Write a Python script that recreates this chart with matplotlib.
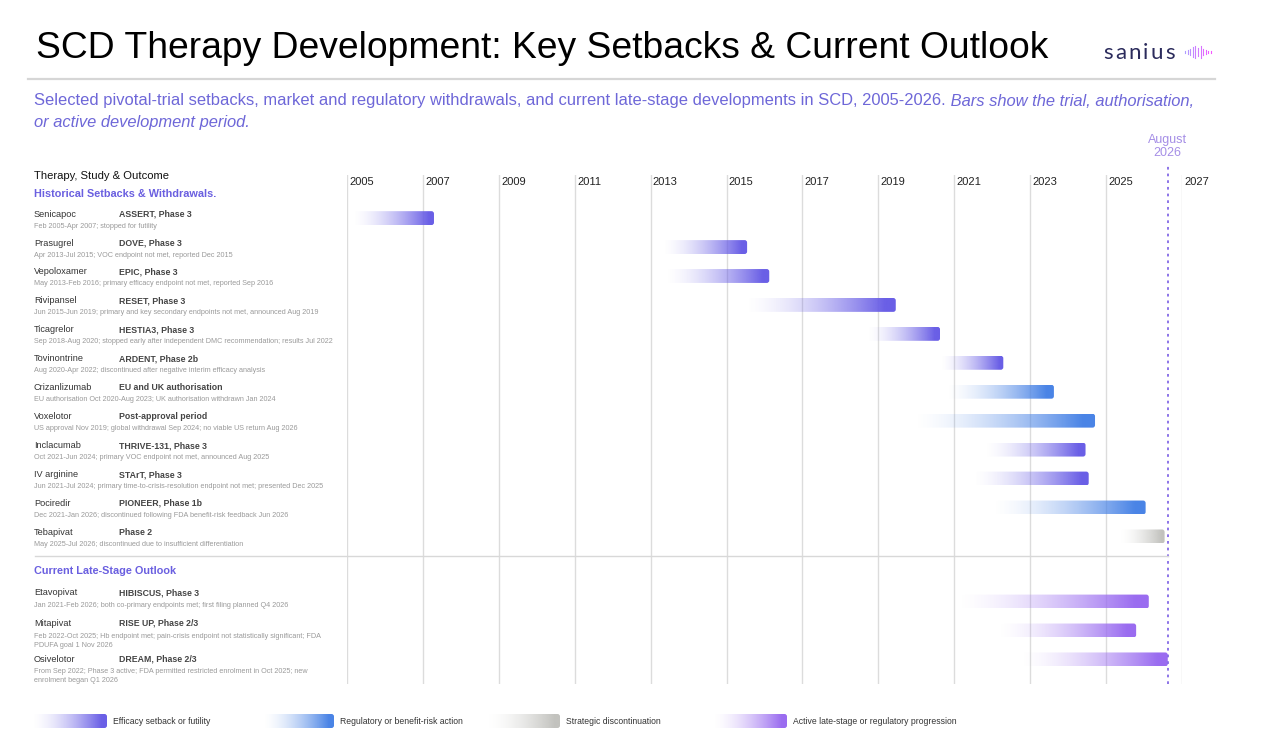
import numpy as np
import matplotlib
matplotlib.use('Agg')
import matplotlib.pyplot as plt
from matplotlib.patches import FancyBboxPatch
from matplotlib.lines import Line2D
from matplotlib.colors import to_rgb
from matplotlib.transforms import blended_transform_factory

plt.rcParams['font.family'] = ['Liberation Sans', 'DejaVu Sans']

W, H = 1280, 756

# --- data ---
hist_names = ['Senicapoc', 'Prasugrel', 'Vepoloxamer', 'Rivipansel', 'Ticagrelor', 'Tovinontrine',
              'Crizanlizumab', 'Voxelotor', 'Inclacumab', 'IV arginine', 'Pociredir', 'Tebapivat']
hist_studies = ['ASSERT, Phase 3', 'DOVE, Phase 3', 'EPIC, Phase 3', 'RESET, Phase 3', 'HESTIA3, Phase 3',
                'ARDENT, Phase 2b', 'EU and UK authorisation', 'Post-approval period', 'THRIVE-131, Phase 3',
                'STArT, Phase 3', 'PIONEER, Phase 1b', 'Phase 2']
hist_notes = [
    'Feb 2005-Apr 2007; stopped for futility',
    'Apr 2013-Jul 2015; VOC endpoint not met, reported Dec 2015',
    'May 2013-Feb 2016; primary efficacy endpoint not met, reported Sep 2016',
    'Jun 2015-Jun 2019; primary and key secondary endpoints not met, announced Aug 2019',
    'Sep 2018-Aug 2020; stopped early after independent DMC recommendation; results Jul 2022',
    'Aug 2020-Apr 2022; discontinued after negative interim efficacy analysis',
    'EU authorisation Oct 2020-Aug 2023; UK authorisation withdrawn Jan 2024',
    'US approval Nov 2019; global withdrawal Sep 2024; no viable US return Aug 2026',
    'Oct 2021-Jun 2024; primary VOC endpoint not met, announced Aug 2025',
    'Jun 2021-Jul 2024; primary time-to-crisis-resolution endpoint not met; presented Dec 2025',
    'Dec 2021-Jan 2026; discontinued following FDA benefit-risk feedback Jun 2026',
    'May 2025-Jul 2026; discontinued due to insufficient differentiation',
]
hist_start = ['2005-02', '2013-04', '2013-05', '2015-06', '2018-09', '2020-08',
              '2020-10', '2019-11', '2021-10', '2021-06', '2021-12', '2025-05']
hist_end = ['2007-04', '2015-07', '2016-02', '2019-06', '2020-08', '2022-04',
            '2023-08', '2024-09', '2024-06', '2024-07', '2026-01', '2026-07']
hist_kind = ['efficacy', 'efficacy', 'efficacy', 'efficacy', 'efficacy', 'efficacy',
             'regulatory', 'regulatory', 'efficacy', 'efficacy', 'regulatory', 'strategic']

late_names = ['Etavopivat', 'Mitapivat', 'Osivelotor']
late_studies = ['HIBISCUS, Phase 3', 'RISE UP, Phase 2/3', 'DREAM, Phase 2/3']
late_notes = [
    'Jan 2021-Feb 2026; both co-primary endpoints met; first filing planned Q4 2026',
    'Feb 2022-Oct 2025; Hb endpoint met; pain-crisis endpoint not statistically significant; FDA\nPDUFA goal 1 Nov 2026',
    'From Sep 2022; Phase 3 active; FDA permitted restricted enrolment in Oct 2025; new\nenrolment began Q1 2026',
]
late_start = ['2021-01', '2022-02', '2022-09']
late_end = ['2026-02', '2025-10', '2026-08']
late_kind = ['active', 'active', 'active']

year_ticks = list(range(2005, 2028, 2))
today = '2026-08'

kind_colors = {'efficacy': '#6a5fe6', 'regulatory': '#4a84e6',
               'strategic': '#c2c2be', 'active': '#9a6cf0'}
legend_labels = {'efficacy': 'Efficacy setback or futility',
                 'regulatory': 'Regulatory or benefit-risk action',
                 'strategic': 'Strategic discontinuation',
                 'active': 'Active late-stage or regulatory progression'}

PURPLE = '#6a5fe0'
ROW_PX = 28.94  # pixels per row unit


def to_year(s, frac=0.5):
    y, m = s.split('-')
    return int(y) + (int(m) - 1 + frac) / 12.0


def gradient_bar(axis, x0, x1, y0, y1, color, rx, ry):
    rgb = np.array(to_rgb(color))
    t = np.linspace(0, 1, 256)
    img = np.zeros((1, 256, 4))
    img[..., :3] = rgb
    img[..., 3] = np.clip(t / 0.93, 0, 1) ** 1.6
    im = axis.imshow(img, extent=(x0, x1, y0, y1), aspect='auto',
                     interpolation='bilinear', zorder=3)
    patch = FancyBboxPatch((x0, min(y0, y1)), x1 - x0, abs(y1 - y0),
                           boxstyle=f'round,pad=0,rounding_size={rx}',
                           mutation_aspect=ry / rx, transform=axis.transData,
                           facecolor='none', edgecolor='none')
    axis.add_patch(patch)
    im.set_clip_path(patch)


fig = plt.figure(figsize=(W / 100, H / 100), dpi=100)
fig.patch.set_facecolor('white')
renderer = fig.canvas.get_renderer()

# timeline axes: x in years, y in row units (row 0 centred at 218 px)
ax = fig.add_axes([347 / W, 1 - 684 / H, (1182 - 347) / W, (684 - 175) / H])
ax.set_xlim(2005, 2027)
ax.set_ylim(16.1, -1.49)
ax.axis('off')

tr = blended_transform_factory(fig.transFigure, ax.transData)

hist_y = np.arange(len(hist_names), dtype=float)
late_y = len(hist_names) + 1.25 + np.arange(len(late_names))

for yr in year_ticks:
    ax.axvline(yr, color='#dcdcdc', lw=1.0, zorder=1)
    ax.text(yr + 0.06, -1.26, str(yr), fontsize=8, color='#222222', ha='left', va='center',
            clip_on=False)

bar_h = 0.48
px_yr = (1182 - 347) / 22.0
rx = 2.5 / px_yr
ry = 2.5 / ROW_PX

for y, s, e, k in zip(hist_y, hist_start, hist_end, hist_kind):
    gradient_bar(ax, to_year(s), to_year(e), y - bar_h / 2, y + bar_h / 2, kind_colors[k], rx, ry)
for y, s, e, k in zip(late_y, late_start, late_end, late_kind):
    gradient_bar(ax, to_year(s), to_year(e), y - bar_h / 2, y + bar_h / 2, kind_colors[k], rx, ry)

ax.set_xlim(2005, 2027)
ax.set_ylim(16.1, -1.49)

# today marker
t_year = to_year(today)
ax.plot([t_year, t_year], [16.1, -1.84], color='#8469e6', lw=1.3, ls=(0, (1.5, 2.2)),
        clip_on=False, zorder=4)
ax.text(t_year, -2.47, 'August\n2026', color='#a58ee6', fontsize=9, ha='center', va='center',
        linespacing=1.15, clip_on=False)

# section separator
fig.add_artist(Line2D([35 / W, 1168 / W], [11.68, 11.68], transform=tr, color='#d8d8d8', lw=1.0))

# left label panel
fig.text(34 / W, -1.45, 'Therapy, Study & Outcome', transform=tr, fontsize=8.1,
         color='#111111', va='center')
fig.text(34 / W, -0.83, 'Historical Setbacks & Withdrawals.', transform=tr, fontsize=7.8,
         fontweight='bold', color=PURPLE, va='center')
fig.text(34 / W, 12.2, 'Current Late-Stage Outlook', transform=tr, fontsize=7.8,
         fontweight='bold', color=PURPLE, va='center')

for y, n, st, note in zip(hist_y, hist_names, hist_studies, hist_notes):
    fig.text(34 / W, y - 4 / ROW_PX, n, transform=tr, fontsize=6.6, color='#333333', va='center')
    fig.text(119 / W, y - 4 / ROW_PX, st, transform=tr, fontsize=6.3, fontweight='bold',
             color='#444444', va='center')
    fig.text(34 / W, y + 8 / ROW_PX, note, transform=tr, fontsize=5.2, color='#9a9a9a',
             va='center')

# late-stage text rows flow with their wrapped notes (offsets from bar centre in px)
late_name_off = [-9, -7, 0]
late_note_off = [4, 7, 13]
for y, n, st, note, no, to in zip(late_y, late_names, late_studies, late_notes,
                                  late_name_off, late_note_off):
    fig.text(34 / W, y + no / ROW_PX, n, transform=tr, fontsize=6.6, color='#333333', va='center')
    fig.text(119 / W, y + no / ROW_PX, st, transform=tr, fontsize=6.3, fontweight='bold',
             color='#444444', va='center')
    fig.text(34 / W, y + (to - 4) / ROW_PX, note, transform=tr, fontsize=5.2, color='#9a9a9a',
             va='top', linespacing=1.25)

# header
fig.text(36 / W, 1 - 48 / H, 'SCD Therapy Development: Key Setbacks & Current Outlook',
         fontsize=26.8, color='black', va='center')
fig.add_artist(Line2D([28 / W, 1215 / W], [1 - 79 / H, 1 - 79 / H], color='#d6d6d6', lw=1.6))

# logo: letter-spaced wordmark
xc = 1103.0
for ch in 'sanius':
    tt = fig.text(xc / W, 1 - 53 / H, ch, fontsize=16, color='#2b2b5c', va='center',
                  family=['Lato', 'DejaVu Sans'])
    xc = tt.get_window_extent(renderer=renderer).x1 + 2.2
# little waveform next to the logo
wave_h = [1, 2, 3, 5, 6, 4, 6, 3, 2, 1, 1]
for i, hh in enumerate(wave_h):
    xx = (1185 + i * 2.6) / W
    c = plt.cm.cool(0.55 + 0.04 * i)
    fig.add_artist(Line2D([xx, xx], [1 - (52 - hh) / H, 1 - (52 + hh) / H], color=c,
                          lw=0.8, alpha=0.7))

sub_main = ('Selected pivotal-trial setbacks, market and regulatory withdrawals, and current '
            'late-stage developments in SCD, 2005-2026.')
sub_it1 = ' Bars show the trial, authorisation,'
sub_it2 = 'or active development period.'
SUBC = '#6e67d8'
t1 = fig.text(34 / W, 1 - 101 / H, sub_main, fontsize=11.9, color=SUBC, va='center')
bb = t1.get_window_extent(renderer=renderer)
fig.text(bb.x1 / W, 1 - 101 / H, sub_it1, fontsize=11.9, color=SUBC, va='center', style='italic')
fig.text(34 / W, 1 - 122 / H, sub_it2, fontsize=11.9, color=SUBC, va='center', style='italic')

# legend
lax = fig.add_axes([0, 1 - 735 / H, 1, 28 / H])
lax.set_xlim(0, W)
lax.set_ylim(0, 1)
lax.axis('off')
leg_x = {'efficacy': (32, 107), 'regulatory': (263, 334), 'strategic': (487, 560), 'active': (713, 787)}
for k, (x0, x1) in leg_x.items():
    gradient_bar(lax, x0, x1, 0.25, 0.75, kind_colors[k], 2.5, 2.5 / 28)
    lax.text(x1 + 6, 0.5, legend_labels[k], fontsize=6.2, color='#333333', va='center')
lax.set_xlim(0, W)
lax.set_ylim(0, 1)

fig.savefig('out.png', dpi=100, facecolor='white')
